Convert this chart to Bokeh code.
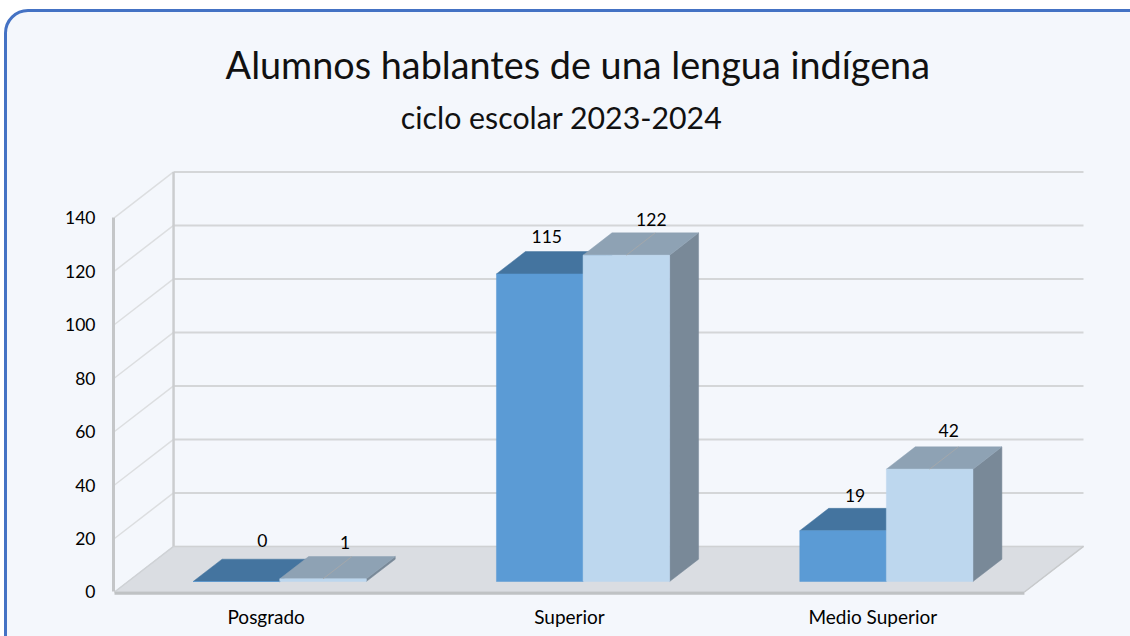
from bokeh.plotting import figure
from bokeh.models import Range1d, FixedTicker, Label, ColumnDataSource
from bokeh.embed import file_html
from bokeh.resources import INLINE

categories = ["Posgrado", "Superior", "Medio Superior"]
series_a = [0, 115, 19]
series_b = [1, 122, 42]
y_ticks = [0, 20, 40, 60, 80, 100, 120, 140]
title_main = "Alumnos hablantes de una lengua indígena"
title_sub = "ciclo escolar 2023-2024"

# page position of the card and of the plot frame
CARD_L, CARD_T, BW = 4, 9, 3
OX, OY = CARD_L + BW, CARD_T + BW
W, H = 1150, 660
PAGE_TOP = 20                 # frame reaches up here so the titles sit inside it
ZERO_Y = 590.5                # page row of the value 0
LEFT, RIGHT, TOP, BOTTOM = 113 - OX, 1083 - OX, PAGE_TOP - OY, 594 - OY
PX_X, PX_Y = 303.0, 2.67      # pixels per category / per unit of value
DX, DY = 59 / PX_X, 45.5 / PX_Y  # full depth of the box in data units
D0, D1 = 0.23, 0.72           # depth interval occupied by the bars
BAR_W = 86.5 / PX_X

x0 = -1 / PX_X
xr = Range1d(x0, x0 + (RIGHT - LEFT) / PX_X)
yr = Range1d((ZERO_Y - 594) / PX_Y, (ZERO_Y - PAGE_TOP) / PX_Y)

p = figure(width=W, height=H, x_range=xr, y_range=yr, output_backend="svg",
           toolbar_location=None, tools="",
           min_border_left=LEFT, min_border_right=W - RIGHT + 5,
           min_border_top=TOP, min_border_bottom=H - BOTTOM + 5,
           styles={"position": "fixed", "left": f"{CARD_L}px", "top": f"{CARD_T}px",
                   "border": f"{BW}px solid #4472c4", "border-radius": "24px",
                   "background": "#f4f7fc", "box-sizing": "content-box", "overflow": "hidden"})
p.grid.visible = False
p.outline_line_color = None
p.background_fill_color = None
p.border_fill_color = None

def pr(x, y, d):
    return x + DX * d, y + DY * d

# floor
fx = [0, 3, 3 + DX, DX]
fy = [0, 0, DY, DY]
p.patch(fx, fy, fill_color="#dadde2", line_color="#cfd2d6", line_width=1)
# walls: grid lines on side and back
gv = y_ticks[1:]
p.segment([0] * len(gv), gv, [DX] * len(gv), [v + DY for v in gv],
          line_color="#dcdee0", line_width=1.5)
p.segment([DX] * len(gv), [v + DY for v in gv], [3 + DX] * len(gv), [v + DY for v in gv],
          line_color="#d4d6d8", line_width=2)
p.segment([DX], [DY], [DX], [140 + DY], line_color="#cbcdcf", line_width=2.5)
p.segment([DX], [DY], [3 + DX], [DY], line_color="#cfd1d3", line_width=1.5)
p.segment([0], [0], [DX], [DY], line_color="#cfd2d6", line_width=1.5)
p.segment([0], [-0.5], [3], [-0.5], line_color="#bfc2c4", line_width=3)
p.segment([3], [0], [3 + DX], [DY], line_color="#c8cacc", line_width=1.5)

def bar(x, w, v, front, top, side):
    xl, xr_ = x, x + w
    fl, b = pr(xl, 0, D0)
    fr, _ = pr(xr_, 0, D0)
    tl, t = pr(xl, v, D0)
    tr, _ = pr(xr_, v, D0)
    bl, bt = pr(xl, v, D1)
    br, _ = pr(xr_, v, D1)
    _, bb = pr(xr_, 0, D1)
    p.patch([fr, br, br, fr], [b, bb, bt, t], fill_color=side, line_color=side, line_width=0.5)
    p.patch([tl, bl, br, tr], [t, bt, bt, t], fill_color=top, line_color=top, line_width=0.5)
    p.patch([fl, fr, fr, fl], [b, b, t, t], fill_color=front, line_color=front, line_width=0.5)

centers = [i + 0.5 for i in range(len(categories))]
for c, a, b_ in zip(centers, series_a, series_b):
    bar(c - BAR_W, BAR_W, a, "#5b9bd5", "#44749f", "#44749f")
    bar(c, BAR_W, b_, "#bdd7ee", "#8ea2b4", "#798998")
    # leader on the top face of the light bar
    sx, sy = pr(c + BAR_W / 2, b_, D0)
    ex, ey = pr(c + BAR_W / 2, b_, D1)
    p.segment([sx], [sy], [ex], [ey], line_color="#a9a9a9", line_width=1, line_alpha=0.8)

# value labels: nudge per label in pixels
nudge_ax = [26, 7, 12]
nudge_bx = [22, 25, 19]
nudge_ay = [-41, -37, -35.5]
nudge_by = [-36, -36, -38.5]
lx, ly, lt, lo, lv = [], [], [], [], []
for c, a, b_, nax, nbx, nay, nby in zip(centers, series_a, series_b, nudge_ax, nudge_bx, nudge_ay, nudge_by):
    xa, ya = pr(c - BAR_W / 2, a, D0)
    xb, yb = pr(c + BAR_W / 2, b_, D0)
    lx += [xa, xb]; ly += [ya, yb]; lt += [str(a), str(b_)]; lo += [nax, nbx]; lv += [nay, nby]
src = ColumnDataSource(dict(x=lx, y=ly, t=lt, o=lo, v=lv))
p.text("x", "y", text="t", x_offset="o", y_offset="v", source=src,
       text_font={"value": "Lato"}, text_font_size="17.5px", text_color="#000000",
       text_align="center", text_baseline="middle")

# axes
ax = p.xaxis[0]
ax.ticker = FixedTicker(ticks=centers)
ax.major_label_overrides = {c: n for c, n in zip(centers, categories)}
ax.axis_line_color = None
ax.major_tick_line_color = None
ax.minor_tick_line_color = None
ax.major_label_text_font = "Lato"
ax.major_label_text_font_size = "19px"
ax.major_label_text_color = "#000000"
ax.major_label_standoff = 3

ay = p.yaxis[0]
ay.ticker = FixedTicker(ticks=y_ticks)
ay.bounds = (0, 140)
ay.axis_line_color = "#c4c6c8"
ay.axis_line_width = 3
ay.major_tick_line_color = None
ay.minor_tick_line_color = None
ay.major_label_text_font = "Lato"
ay.major_label_text_font_size = "17.5px"
ay.major_label_text_color = "#000000"
ay.major_label_standoff = 12

def page_x(px):
    return x0 + (px - 113) / PX_X

def page_y(py):
    return (ZERO_Y - py) / PX_Y

p.add_layout(Label(x=page_x(225), y=page_y(64), text=title_main,
                   text_font="Lato", text_font_size="37.8px", text_color="#111111",
                   text_baseline="alphabetic"))
p.add_layout(Label(x=page_x(400), y=page_y(116), text=title_sub,
                   text_font="Lato", text_font_size="30.3px", text_color="#111111",
                   text_baseline="alphabetic"))

open("out.html", "w").write(file_html(p, INLINE))
